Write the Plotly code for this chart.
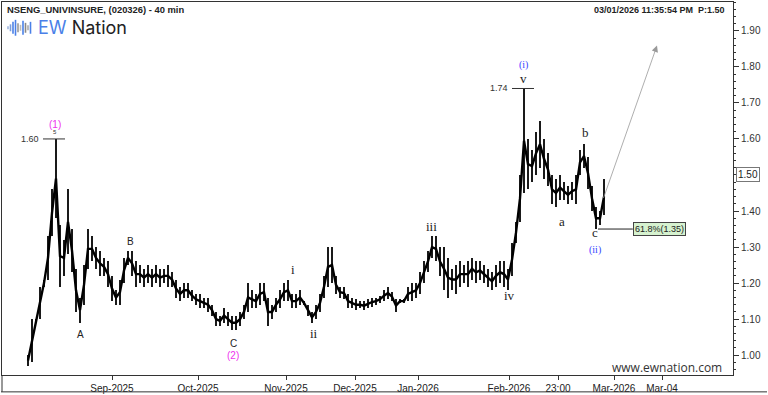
import plotly.graph_objects as go

# ---------------- data ----------------
highs = [1.00, 1.10, 1.10, 1.19, 1.21, 1.33, 1.46, 1.60, 1.36, 1.32,
         1.46, 1.35, 1.24, 1.16, 1.25, 1.35, 1.33, 1.30, 1.29, 1.27,
         1.26, 1.22, 1.18, 1.21, 1.27, 1.29, 1.29, 1.26, 1.25, 1.24,
         1.25, 1.24, 1.25, 1.24, 1.24, 1.25, 1.23, 1.21, 1.19, 1.20,
         1.20, 1.18, 1.17, 1.17, 1.16, 1.16, 1.14, 1.12, 1.11, 1.13,
         1.12, 1.11, 1.11, 1.12, 1.14, 1.20, 1.18, 1.17, 1.20, 1.20,
         1.16, 1.14, 1.16, 1.18, 1.20, 1.21, 1.17, 1.17, 1.18, 1.15,
         1.14, 1.12, 1.14, 1.17, 1.22, 1.30, 1.30, 1.22, 1.19, 1.19,
         1.17, 1.16, 1.155, 1.15, 1.15, 1.155, 1.16, 1.16, 1.165, 1.18,
         1.19, 1.175, 1.155, 1.155, 1.155, 1.19, 1.20, 1.20, 1.23, 1.26,
         1.29, 1.33, 1.33, 1.30, 1.30, 1.27, 1.24, 1.25, 1.26, 1.25,
         1.26, 1.27, 1.26, 1.26, 1.25, 1.24, 1.23, 1.25, 1.26, 1.26,
         1.24, 1.31, 1.37, 1.50, 1.74, 1.60, 1.57, 1.62, 1.65, 1.60,
         1.56, 1.50, 1.49, 1.50, 1.48, 1.47, 1.48, 1.50, 1.57, 1.585,
         1.55, 1.47, 1.41, 1.40, 1.49]
lows = [0.97, 0.98, 1.09, 1.10, 1.19, 1.21, 1.33, 1.38, 1.19, 1.22,
        1.28, 1.23, 1.12, 1.09, 1.14, 1.24, 1.26, 1.24, 1.22, 1.22,
        1.19, 1.15, 1.14, 1.14, 1.20, 1.25, 1.22, 1.19, 1.20, 1.19,
        1.20, 1.19, 1.20, 1.19, 1.20, 1.19, 1.19, 1.16, 1.15, 1.16,
        1.16, 1.15, 1.14, 1.13, 1.13, 1.12, 1.11, 1.08, 1.08, 1.09,
        1.08, 1.07, 1.07, 1.08, 1.10, 1.12, 1.13, 1.13, 1.14, 1.15,
        1.08, 1.10, 1.12, 1.13, 1.15, 1.15, 1.13, 1.13, 1.14, 1.14,
        1.11, 1.09, 1.10, 1.12, 1.16, 1.19, 1.20, 1.17, 1.16, 1.155,
        1.13, 1.13, 1.125, 1.13, 1.125, 1.13, 1.135, 1.14, 1.145, 1.15,
        1.155, 1.15, 1.12, 1.145, 1.145, 1.15, 1.15, 1.16, 1.17, 1.20,
        1.23, 1.27, 1.26, 1.22, 1.18, 1.16, 1.18, 1.17, 1.19, 1.20,
        1.19, 1.21, 1.20, 1.21, 1.20, 1.19, 1.18, 1.19, 1.20, 1.19,
        1.18, 1.22, 1.31, 1.37, 1.45, 1.46, 1.48, 1.50, 1.52, 1.49,
        1.47, 1.42, 1.41, 1.43, 1.43, 1.42, 1.43, 1.42, 1.50, 1.52,
        1.46, 1.40, 1.35, 1.36, 1.39]
bar_index = list(range(len(highs)))

tick_positions = [21, 42.5, 64.5, 81.75, 97.5, 120.25, 132.5, 146.5, 158.5]
tick_labels = ["Sep-2025", "Oct-2025", "Nov-2025", "Dec-2025", "Jan-2026",
               "Feb-2026", "23:00", "Mar-2026", "Mar-04"]
price_ticks = [1.00, 1.10, 1.20, 1.30, 1.40, 1.60, 1.70, 1.80, 1.90]

wave_labels = ["A", "B", "C", "i", "ii", "iii", "iv", "v", "a", "b", "c"]
wave_x = [13, 25.5, 51.25, 66.25, 71.5, 100.75, 120.25, 123.75, 133.5, 139.25, 141.75]
wave_y = [1.058, 1.316, 1.032, 1.239, 1.06, 1.358, 1.165, 1.768, 1.371, 1.619, 1.340]

degree_labels = ["(1)", "(2)", "(i)", "(ii)"]
degree_x = [6.75, 51.25, 123.75, 141.75]
degree_y = [1.641, 1.000, 1.804, 1.293]
degree_colors = ["#ee33ee", "#ee33ee", "#3344ff", "#3344ff"]

peak_values = [1.60, 1.74]
peak_x = [6.75, 124]
fib_level = 1.35
fib_text = "61.8%(1.35)"
last_price = 1.50
target_from = (143.75, 1.432)
target_to = (157.25, 1.859)

title_text = "NSENG_UNIVINSURE, (020326) - 40 min"
stamp_text = "03/01/2026 11:35:54 PM  P:1.50"
site_text = "www.ewnation.com"

# ---------------- figure ----------------
W, H = 768, 395
ML, MR, MT, MB = 2, 35, 1, 18
PW, PH = W - ML - MR, H - MT - MB
Y0, Y1 = 0.945, 1.98


def px(x):
    return (x - ML) / PW


def py(y):
    return (H - MB - y) / PH


def pv(v):
    return (v - Y0) / (Y1 - Y0)


fig = go.Figure()
# high-low range of every bar
fig.add_trace(go.Bar(
    x=bar_index,
    y=[h - l for h, l in zip(highs, lows)],
    base=lows,
    width=0.32,
    marker=dict(color="#1a1a1a", line=dict(width=0)),
    hoverinfo="skip",
))
# body line through the middle of each bar's range
fig.add_trace(go.Scatter(x=bar_index, y=[(h + l) / 2 for h, l in zip(highs, lows)],
                         mode="lines", line=dict(color="#000000", width=2.4),
                         hoverinfo="skip"))

SANS = "Arial, Liberation Sans, sans-serif"
SERIF = "Times New Roman, Liberation Serif, serif"

ann = []
for t, x, y in zip(wave_labels, wave_x, wave_y):
    upper = t in ("A", "B", "C")
    ann.append(dict(x=x, y=y, text=t, showarrow=False,
                    font=dict(family=SANS if upper else SERIF,
                              size=10 if upper else 13, color="#222")))
for t, x, y, c in zip(degree_labels, degree_x, degree_y, degree_colors):
    ann.append(dict(x=x, y=y, text=t, showarrow=False,
                    font=dict(family=SANS if c == "#ee33ee" else SERIF,
                              size=10, color=c)))
ann.append(dict(x=6.75, y=1.619, text="5", showarrow=False,
                font=dict(family=SANS, size=6, color="#333")))

shapes = []
for v, x in zip(peak_values, peak_x):
    shapes.append(dict(type="line", x0=x - 3, x1=x + 2.5, y0=v, y1=v,
                       line=dict(color="#333", width=1)))
    ann.append(dict(x=x - 3.5, y=v, text=f"{v:.2f}", showarrow=False,
                    xanchor="right", font=dict(family=SANS, size=9, color="#333")))

# fib retracement line + label
shapes.append(dict(type="line", x0=142.5, x1=151.2, y0=fib_level, y1=fib_level,
                   line=dict(color="#222", width=1)))
ann.append(dict(x=151.2, y=fib_level, text=fib_text, showarrow=False,
                xanchor="left", bgcolor="#d6f2cf", bordercolor="#444",
                borderwidth=1, borderpad=1,
                font=dict(family=SANS, size=9, color="#222")))

# projection arrow
ann.append(dict(x=target_to[0], y=target_to[1], ax=target_from[0], ay=target_from[1],
                axref="x", ayref="y", xref="x", yref="y", showarrow=True,
                arrowhead=2, arrowsize=1.6, arrowwidth=0.8, arrowcolor="#999", text=""))

# header texts
ann.append(dict(xref="paper", yref="paper", x=px(5), y=py(9), text=f"<b>{title_text}</b>",
                showarrow=False, xanchor="left", yanchor="middle",
                font=dict(family=SANS, size=9.4, color="#222")))
ann.append(dict(xref="paper", yref="paper", x=px(727), y=py(9), text=f"<b>{stamp_text}</b>",
                showarrow=False, xanchor="right", yanchor="middle",
                font=dict(family=SANS, size=9, color="#222")))
ann.append(dict(xref="paper", yref="paper", x=px(36), y=py(27),
                text="<span style='color:#4a80e8'>EW</span> Nation",
                showarrow=False, xanchor="left", yanchor="middle",
                font=dict(family="Inter, Roboto, sans-serif", size=18, color="#222")))
ann.append(dict(xref="paper", yref="paper", x=px(667), y=py(369), text=site_text,
                showarrow=False, xanchor="center", yanchor="middle",
                font=dict(family="Open Sans, sans-serif", size=12, color="#333")))

# logo waveform icon
icon_x = [8, 10.5, 13, 15.5, 18, 20.5, 23, 25.5, 28, 30.5]
icon_h = [3, 7, 12, 16, 9, 6, 14, 10, 5, 12]
icon_c = ["#9fb6e0", "#7a9ddc", "#4a80e8", "#4a80e8", "#999", "#bbb",
          "#4a80e8", "#888", "#aaa", "#4a80e8"]
for xx, hh, cc in zip(icon_x, icon_h, icon_c):
    shapes.append(dict(type="line", xref="paper", yref="paper",
                       x0=px(xx), x1=px(xx), y0=py(27 - hh / 2), y1=py(27 + hh / 2),
                       line=dict(color=cc, width=1.6)))

# last price marker on right axis (boxed label)
yc = pv(last_price)
ann.append(dict(xref="paper", yref="paper", x=px(736), y=yc, text=f"{last_price:.2f}",
                xanchor="left", yanchor="middle", showarrow=False,
                bgcolor="white", bordercolor="#777", borderwidth=1, borderpad=1,
                font=dict(family=SANS, size=10, color="#222")))

# outer frame below the plot
shapes.append(dict(type="line", xref="paper", yref="paper", x0=px(1), x1=px(767),
                   y0=py(394), y1=py(394), line=dict(color="#333", width=1)))
shapes.append(dict(type="line", xref="paper", yref="paper", x0=px(2), x1=px(2),
                   y0=py(394), y1=py(377), line=dict(color="#333", width=1)))

fig.update_layout(
    width=W, height=H,
    margin=dict(l=ML, r=MR, t=MT, b=MB),
    paper_bgcolor="white", plot_bgcolor="white",
    showlegend=False, bargap=0,
    annotations=ann, shapes=shapes,
    xaxis=dict(range=[-6.5, 176.25], tickvals=tick_positions, ticktext=tick_labels,
               showgrid=False, zeroline=False, showline=True, mirror=True,
               linecolor="#333", linewidth=1, ticks="outside", ticklen=4,
               tickcolor="#333", tickfont=dict(family=SANS, size=10, color="#222")),
    yaxis=dict(range=[Y0, Y1], side="right", tickvals=price_ticks,
               ticktext=[f"{v:.2f}" for v in price_ticks],
               showgrid=False, zeroline=False, showline=True,
               mirror=True, linecolor="#333", linewidth=1, ticks="outside",
               ticklen=5, tickcolor="#333",
               minor=dict(tick0=1.0, dtick=0.02, ticks="outside", ticklen=2,
                          tickcolor="#333"),
               tickfont=dict(family=SANS, size=10, color="#333")),
)

fig.write_html("out.html")
